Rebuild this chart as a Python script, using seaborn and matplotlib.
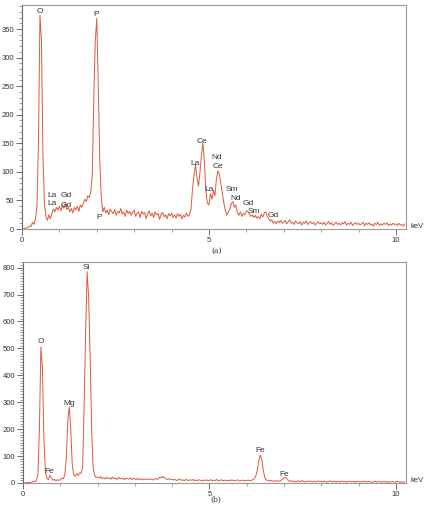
import numpy as np
import pandas as pd
import matplotlib
matplotlib.use("Agg")
import matplotlib.pyplot as plt
from matplotlib.ticker import MultipleLocator
import seaborn as sns

# channel energies (keV), 0.04 keV per channel
energy = np.round(np.arange(0, 10.2401, 0.04), 2)

# spectrum (a): counts, one row per keV
counts_a = [
    1, 0, 2, 1, 3, 5, 4, 12, 8, 18, 40, 150, 375, 330, 130, 45, 22, 15, 25, 18, 28, 35, 30, 38, 33,
    40, 32, 42, 36, 45, 34, 38, 30, 36, 28, 38, 33, 40, 31, 42, 38, 45, 52, 48, 58, 55, 65, 95, 230, 330,
    369, 250, 120, 55, 30, 38, 28, 33, 25, 35, 30, 27, 34, 24, 31, 28, 36, 26, 30, 22, 33, 27, 31, 24, 29,
    33, 22, 28, 30, 20, 31, 26, 29, 18, 27, 32, 23, 28, 20, 30, 25, 27, 17, 26, 29, 21, 25, 18, 27, 23,
    28, 20, 25, 19, 27, 22, 26, 18, 24, 21, 28, 22, 25, 35, 70, 95, 112, 90, 75, 100, 130, 150, 115, 65, 45,
    42, 62, 52, 68, 58, 88, 102, 95, 78, 60, 45, 32, 24, 30, 35, 45, 48, 38, 42, 28, 24, 30, 22, 27, 25,
    32, 30, 26, 22, 25, 20, 24, 19, 22, 18, 26, 21, 28, 30, 22, 18, 14, 16, 10, 13, 9, 14, 11, 15, 10,
    12, 15, 9, 13, 16, 10, 12, 8, 14, 11, 9, 13, 7, 12, 10, 14, 8, 11, 13, 9, 12, 7, 10, 13, 9,
    11, 8, 12, 7, 10, 13, 8, 11, 6, 9, 12, 8, 10, 7, 11, 9, 13, 7, 10, 8, 12, 6, 9, 11, 8,
    10, 7, 9, 12, 6, 10, 8, 11, 7, 9, 5, 10, 8, 12, 6, 9, 7, 10, 8, 11, 6, 9, 7, 10, 8,
    9, 6, 10, 7, 8, 5, 9,
]

# spectrum (b)
counts_b = [
    0, 1, 0, 2, 1, 2, 4, 6, 5, 10, 30, 200, 505, 430, 170, 40, 18, 12, 28, 20, 10, 14, 8, 12, 10,
    12, 18, 15, 30, 90, 230, 283, 200, 70, 30, 25, 35, 28, 38, 36, 60, 300, 560, 785, 690, 470, 200, 60, 28, 20,
    22, 18, 24, 16, 20, 15, 21, 17, 19, 14, 22, 16, 18, 13, 20, 17, 15, 19, 12, 18, 16, 14, 19, 13, 17,
    15, 12, 17, 13, 16, 11, 15, 14, 12, 16, 13, 15, 11, 14, 17, 13, 18, 22, 19, 24, 18, 15, 13, 16, 12,
    14, 11, 13, 9, 12, 15, 10, 12, 8, 13, 11, 9, 12, 10, 13, 8, 11, 9, 12, 10, 7, 11, 9, 12, 8,
    10, 12, 8, 11, 9, 13, 7, 10, 12, 8, 11, 9, 10, 7, 12, 9, 11, 8, 10, 12, 7, 9, 11, 8, 10,
    9, 11, 8, 10, 12, 15, 25, 45, 80, 104, 90, 50, 22, 12, 9, 7, 10, 8, 6, 9, 7, 8, 6, 10, 14,
    19, 20, 15, 9, 6, 8, 5, 7, 4, 8, 6, 5, 9, 6, 4, 7, 5, 8, 6, 4, 7, 5, 6, 8, 5,
    6, 4, 7, 5, 3, 6, 8, 4, 5, 7, 3, 6, 4, 5, 7, 4, 6, 3, 5, 7, 4, 6, 5, 3, 6,
    5, 3, 6, 4, 7, 3, 5, 6, 4, 2, 5, 7, 3, 4, 6, 3, 5, 4, 6, 2, 5, 3, 4, 6, 3,
    4, 6, 3, 5, 2, 4, 3,
]

# peak labels: (element, keV, counts)
labels_a = [
    ("O", 0.48, 381), ("P", 1.98, 376), ("P", 2.06, 21),
    ("La", 0.80, 59), ("Gd", 1.17, 58), ("La", 0.80, 44), ("Gd", 1.17, 42),
    ("La", 4.63, 114), ("Ce", 4.81, 154), ("Nd", 5.21, 126), ("Ce", 5.24, 110),
    ("La", 5.00, 70), ("Sm", 5.62, 70), ("Nd", 5.72, 54), ("Gd", 6.04, 45),
    ("Sm", 6.20, 30), ("Gd", 6.71, 23),
]
labels_b = [
    ("O", 0.48, 524), ("Fe", 0.70, 41), ("Mg", 1.23, 294), ("Si", 1.71, 800),
    ("Fe", 6.36, 119), ("Fe", 7.00, 33),
]

assert len(counts_a) == len(energy) and len(counts_b) == len(energy)

df_a = pd.DataFrame({"keV": energy, "counts": counts_a})
df_b = pd.DataFrame({"keV": energy, "counts": counts_b})

sns.set_theme(style="ticks")
plt.rcParams["font.family"] = ["Liberation Sans", "DejaVu Sans"]

line_color = "#dd5a3c"
fig = plt.figure(figsize=(4.34, 5.05), dpi=100)
ax_a = fig.add_axes([0.0507, 0.5465, 0.8848, 0.4435])
ax_b = fig.add_axes([0.0530, 0.0436, 0.8825, 0.4376])


def style_axis(ax, df, labels, ymax, ymajor):
    sns.lineplot(data=df, x="keV", y="counts", ax=ax, color=line_color,
                 linewidth=0.7, estimator=None, sort=False)
    ax.set_xlim(0, 10.27)
    ax.set_ylim(0, ymax)
    ax.xaxis.set_major_locator(MultipleLocator(5))
    ax.xaxis.set_minor_locator(MultipleLocator(1))
    ax.yaxis.set_major_locator(MultipleLocator(ymajor))
    ax.yaxis.set_minor_locator(MultipleLocator(10))
    ax.tick_params(which="major", length=4, width=0.6, labelsize=5.5,
                   colors="#555555", labelcolor="#333333", pad=1.5, direction="out")
    ax.tick_params(which="minor", length=2, width=0.5, colors="#777777", direction="out")
    ax.set_xlabel("")
    ax.set_ylabel("")
    for side in ["top", "right", "bottom"]:
        ax.spines[side].set_visible(True)
        ax.spines[side].set_color("#999999")
        ax.spines[side].set_linewidth(0.8)
    ax.spines["left"].set_color("#666666")
    ax.spines["left"].set_linewidth(0.8)
    for name, x, y in labels:
        ax.text(x, y, name, fontsize=6, color="#333333", ha="center", va="center")
    ax.annotate("keV", xy=(1.0, 0.0), xycoords="axes fraction", xytext=(3, 1.5),
                textcoords="offset points", fontsize=5.5, color="#333333",
                ha="left", va="center")


style_axis(ax_a, df_a, labels_a, 392, 50)
style_axis(ax_b, df_b, labels_b, 821, 100)

fig.text(0.498, 0.503, "(a)", fontsize=5.5, family="DejaVu Serif",
         color="#333333", ha="center", va="center")
fig.text(0.498, 0.002, "(b)", fontsize=5.5, family="DejaVu Serif",
         color="#333333", ha="center", va="bottom")

fig.savefig("out.png", dpi=100, facecolor="white")
